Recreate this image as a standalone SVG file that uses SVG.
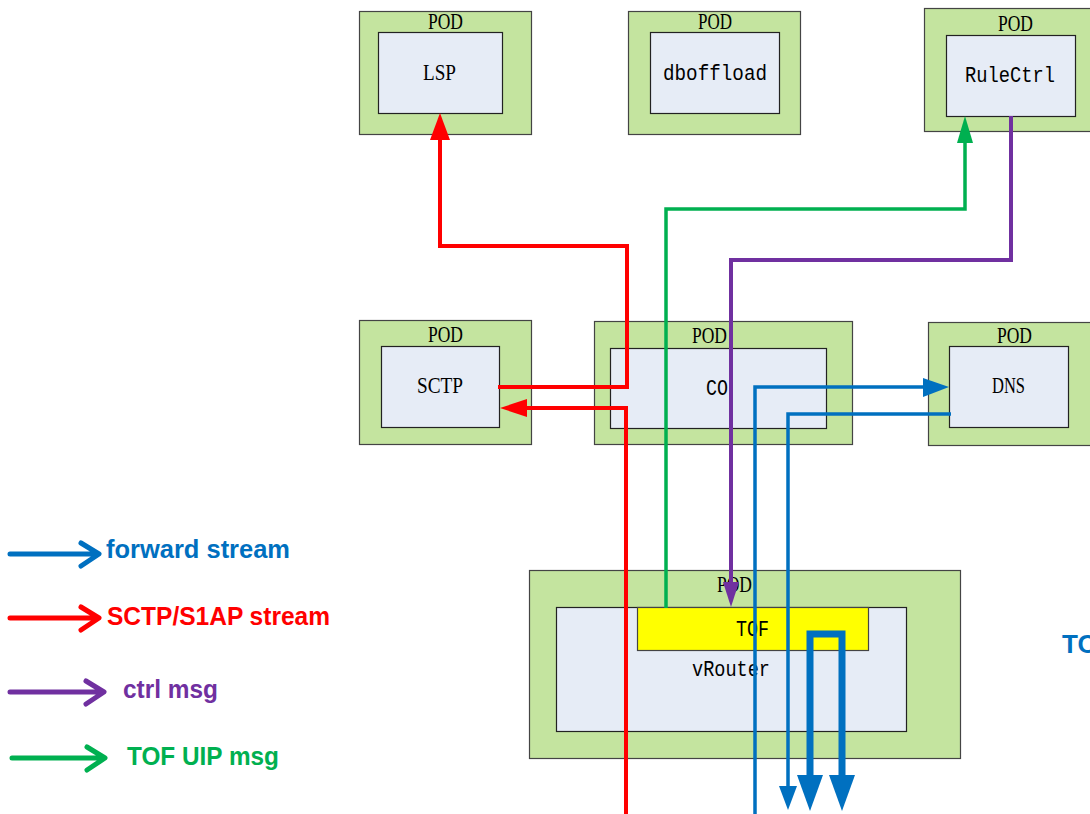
<svg xmlns="http://www.w3.org/2000/svg" width="1090" height="814" viewBox="0 0 1090 814">
<style>
.pod{fill:#C4E49F;stroke:#444;stroke-width:1.2}
.inner{fill:#E6ECF6;stroke:#222;stroke-width:1.2}
.tof{fill:#FFFF00;stroke:#444;stroke-width:1.2}
.lbl{font-family:"Liberation Serif",serif;font-size:24px;fill:#000;text-anchor:start}
.mono{font-family:"Liberation Mono",monospace;font-size:22px;fill:#000}
.leg{font-family:"Liberation Sans",Arial,sans-serif;font-size:25px;font-weight:bold}
.red{stroke:#FF0000;stroke-width:4;fill:none}
.grn{stroke:#00B050;stroke-width:3.5;fill:none}
.pur{stroke:#7030A0;stroke-width:4;fill:none}
.blu{stroke:#0070C0;stroke-width:3.5;fill:none}
.bluT{stroke:#0070C0;stroke-width:7;fill:none}
</style>
<rect width="1090" height="814" fill="#fff"/>

<g id="pod-lsp">
<rect class="pod" x="359.5" y="11.5" width="172" height="123"/>
<rect class="inner" x="378.5" y="32.5" width="124" height="81"/>
<text class="lbl" x="428" y="29" textLength="35" lengthAdjust="spacingAndGlyphs">POD</text>
<text class="lbl" x="423" y="80" textLength="33" lengthAdjust="spacingAndGlyphs">LSP</text>
</g>
<g id="pod-dboffload">
<rect class="pod" x="628.5" y="11.5" width="172" height="123"/>
<rect class="inner" x="650.5" y="32.5" width="129" height="81"/>
<text class="lbl" x="698" y="29" textLength="34" lengthAdjust="spacingAndGlyphs">POD</text>
<text class="mono" x="663" y="80" textLength="104" lengthAdjust="spacingAndGlyphs">dboffload</text>
</g>
<g id="pod-rulectrl">
<rect class="pod" x="924.5" y="8.5" width="170" height="123"/>
<rect class="inner" x="946.5" y="35.5" width="129" height="81"/>
<text class="lbl" x="998" y="31" textLength="35" lengthAdjust="spacingAndGlyphs">POD</text>
<text class="mono" x="965" y="82" textLength="90" lengthAdjust="spacingAndGlyphs">RuleCtrl</text>
</g>
<g id="pod-sctp">
<rect class="pod" x="359.5" y="320.5" width="172" height="124"/>
<rect class="inner" x="381.5" y="346.5" width="118" height="81"/>
<text class="lbl" x="428" y="342" textLength="35" lengthAdjust="spacingAndGlyphs">POD</text>
<text class="lbl" x="417" y="393" textLength="46" lengthAdjust="spacingAndGlyphs">SCTP</text>
</g>
<g id="pod-co">
<rect class="pod" x="594.5" y="321.5" width="258" height="123"/>
<rect class="inner" x="610.5" y="348.5" width="216" height="80"/>
<text class="lbl" x="692" y="343" textLength="35" lengthAdjust="spacingAndGlyphs">POD</text>
<text class="mono" x="706" y="395" textLength="22" lengthAdjust="spacingAndGlyphs">CO</text>
</g>
<g id="pod-dns">
<rect class="pod" x="928.5" y="322.5" width="166" height="123"/>
<rect class="inner" x="949.5" y="346.5" width="119" height="81"/>
<text class="lbl" x="997" y="343" textLength="35" lengthAdjust="spacingAndGlyphs">POD</text>
<text class="lbl" x="992" y="393" textLength="33" lengthAdjust="spacingAndGlyphs">DNS</text>
</g>
<g id="pod-vrouter">
<rect class="pod" x="529.5" y="570.5" width="431" height="188"/>
<rect class="inner" x="556.5" y="607.5" width="350" height="124"/>
<text class="lbl" x="717" y="592" textLength="35" lengthAdjust="spacingAndGlyphs">POD</text>
<text class="mono" x="692" y="676" textLength="78" lengthAdjust="spacingAndGlyphs">vRouter</text>
</g>
<g id="tof">
<rect class="tof" x="637.5" y="607.5" width="231" height="43"/>
<text class="mono" x="736" y="636" textLength="33" lengthAdjust="spacingAndGlyphs">TOF</text>
</g>

<g id="connectors">
<polyline class="red" points="498,387 627,387 627,246 440,246 440,138"/>
<polygon fill="#FF0000" points="440,113 430,140 450,140"/>
<polyline class="red" points="626,814 626,408 525,408"/>
<polygon fill="#FF0000" points="500,408 527,399 527,417"/>
<polyline class="grn" points="666,608 666,209 965,209 965,140"/>
<polygon fill="#00B050" points="965,116 957,143 973,143"/>
<polyline class="pur" points="1011,116 1011,260 731,260 731,585"/>
<polygon fill="#7030A0" points="731,607 723,582 739,582"/>
<polyline class="blu" points="755,814 755,387 925,387"/>
<polygon fill="#0070C0" points="949,387 923,378 923,397"/>
<polyline class="blu" points="951,414 788,414 788,788"/>
<polygon fill="#0070C0" points="788,810 779,786 797,786"/>
<polyline class="bluT" points="810,778 810,634 842,634 842,778"/>
<polygon fill="#0070C0" points="810,811 797,775 823,775"/>
<polygon fill="#0070C0" points="842,811 829,775 855,775"/>
</g>

<g id="legend">
<g stroke-width="5" fill="none" stroke-linecap="round" stroke-linejoin="round">
<path d="M10,554 H98 M81,543 L99,554 L81,566" stroke="#0070C0"/>
<path d="M10,618 H98 M81,607 L99,618 L81,630" stroke="#FF0000"/>
<path d="M10,692 H103 M86,681 L104,692 L86,704" stroke="#7030A0"/>
<path d="M12,758 H104 M87,747 L105,758 L87,770" stroke="#00B050"/>
</g>
<text class="leg" x="106" y="558" fill="#0070C0" textLength="184" lengthAdjust="spacingAndGlyphs">forward stream</text>
<text class="leg" x="107" y="625" fill="#FF0000" textLength="223" lengthAdjust="spacingAndGlyphs">SCTP/S1AP stream</text>
<text class="leg" x="123" y="698" fill="#7030A0" textLength="95" lengthAdjust="spacingAndGlyphs">ctrl msg</text>
<text class="leg" x="127" y="765" fill="#00B050" textLength="152" lengthAdjust="spacingAndGlyphs">TOF UIP msg</text>
</g>
<text x="1062" y="653" font-family="Liberation Sans, Arial, sans-serif" font-size="26" font-weight="bold" fill="#0070C0">TO</text>
</svg>
